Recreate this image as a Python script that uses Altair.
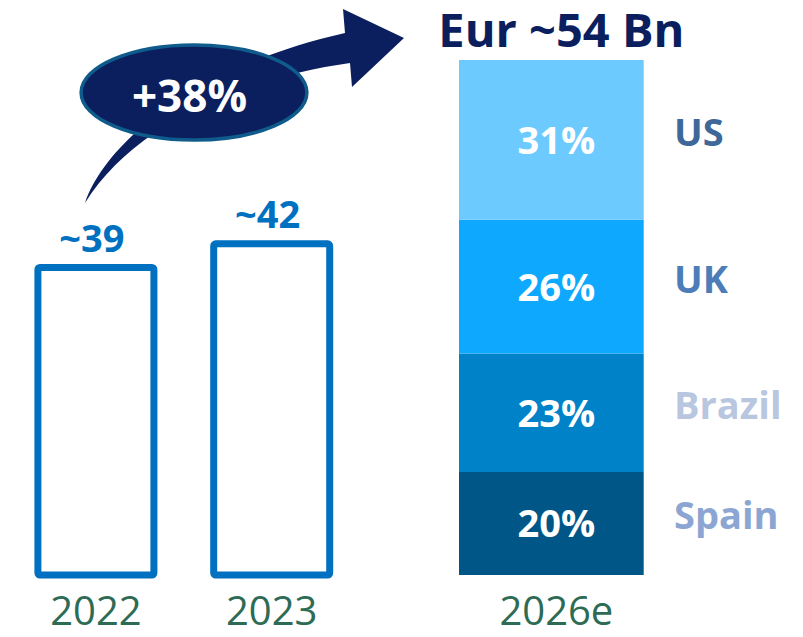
import altair as alt
import pandas as pd

# ---------------- data ----------------
years_hist = ["2022", "2023"]
values_hist = [39, 42]
forecast_year = "2026e"
forecast_total = 54
countries = ["Spain", "Brazil", "UK", "US"]
shares = [20, 23, 26, 31]
growth_label = "+38%"

# ---------------- styles ----------------
seg_colors = ["#005687", "#0082C8", "#0EA9FF", "#6CCAFF"]
country_colors = ["#8BA6D2", "#B8C6E0", "#4D7DB8", "#3D6899"]
NAVY = "#0B1F5E"
BAR_BLUE = "#0070C0"
YEAR_GREEN = "#2E6B55"
FONT = "Open Sans"

# ---------------- tables ----------------
hist_df = pd.DataFrame({"year": years_hist, "value": values_hist})
hist_df["base"] = 0
hist_df["label"] = "~" + hist_df["value"].astype(str)

stack_df = pd.DataFrame({"country": countries, "share": shares})
stack_df["year"] = forecast_year
stack_df["value"] = stack_df["share"] / 100 * forecast_total
stack_df["upper"] = stack_df["value"].cumsum()
stack_df["lower"] = stack_df["upper"] - stack_df["value"]
stack_df["mid"] = (stack_df["upper"] + stack_df["lower"]) / 2
stack_df["pct"] = stack_df["share"].astype(str) + "%"

total_df = pd.DataFrame({"year": [forecast_year], "total": [forecast_total]})
total_df["label"] = "Eur ~" + total_df["total"].astype(str) + " Bn"
yearB_df = pd.DataFrame({"year": [forecast_year], "base": [0]})

anno_df = pd.DataFrame({"year": [years_hist[0]], "value": [values_hist[0]],
                        "label": [growth_label]})

# ---------------- decorative shapes (symbol paths, unit = 100 px) ----------------
def fmt(p):
    return f"{p[0]:.3f},{p[1]:.3f}"

AX, AY = 95.9, 267.5
def u(x, y):
    return ((x - AX) / 100.0, (y - AY) / 100.0)

arrow_path = (
    "M" + fmt(u(85, 203))
    + "C" + fmt(u(105, 145)) + " " + fmt(u(190, 68)) + " " + fmt(u(345, 33))
    + "L" + fmt(u(343, 9))
    + "L" + fmt(u(404, 38))
    + "L" + fmt(u(352, 87))
    + "L" + fmt(u(350, 63))
    + "C" + fmt(u(230, 80)) + " " + fmt(u(130, 130)) + " " + fmt(u(85, 203))
    + "Z"
)

cx, cy = u(194, 92.5)
rx, ry = 1.129, 0.476
k = 0.5523
ellipse_path = (
    f"M{cx-rx:.3f},{cy:.3f}"
    f"C{cx-rx:.3f},{cy-k*ry:.3f} {cx-k*rx:.3f},{cy-ry:.3f} {cx:.3f},{cy-ry:.3f}"
    f"C{cx+k*rx:.3f},{cy-ry:.3f} {cx+rx:.3f},{cy-k*ry:.3f} {cx+rx:.3f},{cy:.3f}"
    f"C{cx+rx:.3f},{cy+k*ry:.3f} {cx+k*rx:.3f},{cy+ry:.3f} {cx:.3f},{cy+ry:.3f}"
    f"C{cx-k*rx:.3f},{cy+ry:.3f} {cx-rx:.3f},{cy+k*ry:.3f} {cx-rx:.3f},{cy:.3f}Z"
)

# ---------------- scales ----------------
WA, WB, H = 430, 357, 629
scaleXA = alt.Scale(domain=years_hist, paddingInner=0, paddingOuter=0.223, align=0)
scaleYA = alt.Scale(domain=[-7.863, 71.913], nice=False, zero=False)
scaleXB = alt.Scale(domain=[forecast_year], paddingInner=0, paddingOuter=0.4664, align=0.1219)
scaleYB = alt.Scale(domain=[-6.501, 59.452], nice=False, zero=False)

xA = alt.X("year:N", scale=scaleXA, axis=None)
xB = alt.X("year:N", scale=scaleXB, axis=None)

# ---------------- panel A: historical outlined bars ----------------
baseA = alt.Chart(hist_df)
barsA = baseA.mark_bar(width=116, fill="white", stroke=BAR_BLUE, strokeWidth=7,
                       cornerRadius=2).encode(
    x=xA,
    y=alt.Y("value:Q", scale=scaleYA, axis=None),
    y2="base:Q",
)
lblA = baseA.mark_text(font=FONT, fontWeight="bold", fontSize=38, color=BAR_BLUE,
                       baseline="alphabetic", dx=-4, dy=-16).encode(
    x=xA, y=alt.Y("value:Q", scale=scaleYA, axis=None), text="label:N"
)
yrA = baseA.mark_text(font=FONT, fontSize=40, color=YEAR_GREEN,
                      baseline="alphabetic", dx=0, dy=50).encode(
    x=xA, y=alt.Y("base:Q", scale=scaleYA, axis=None), text="year:N"
)
arrow = alt.Chart(anno_df).mark_point(shape=arrow_path, size=40000, filled=True,
                                      color=NAVY, opacity=1).encode(
    x=xA, y=alt.Y("value:Q", scale=scaleYA, axis=None)
)
ellipse = alt.Chart(anno_df).mark_point(shape=ellipse_path, size=40000, filled=True,
                                        color=NAVY, stroke="#0F5C8C", strokeWidth=3.5,
                                        opacity=1).encode(
    x=xA, y=alt.Y("value:Q", scale=scaleYA, axis=None)
)
growth = alt.Chart(anno_df).mark_text(font=FONT, fontWeight="bold", fontSize=44,
                                      color="white", baseline="alphabetic",
                                      dx=93.6, dy=-155.5).encode(
    x=xA, y=alt.Y("value:Q", scale=scaleYA, axis=None), text="label:N"
)
panelA = alt.layer(barsA, lblA, yrA, arrow, ellipse, growth).properties(width=WA, height=H)

# ---------------- panel B: 2026e stacked bar ----------------
baseB = alt.Chart(stack_df)
stack = baseB.mark_bar(width=184.7).encode(
    x=xB,
    y=alt.Y("upper:Q", scale=scaleYB, axis=None),
    y2="lower:Q",
    color=alt.Color("country:N", scale=alt.Scale(domain=countries, range=seg_colors),
                    legend=None),
)
pct = baseB.mark_text(font=FONT, fontWeight="bold", fontSize=38, color="white",
                      baseline="middle", dx=5, dy=3).encode(
    x=xB, y=alt.Y("mid:Q", scale=scaleYB, axis=None), text="pct:N"
)
ctry = baseB.mark_text(font=FONT, fontWeight="bold", fontSize=38, align="left",
                       baseline="middle", dx=122.7, dy=-5).encode(
    x=xB, y=alt.Y("mid:Q", scale=scaleYB, axis=None), text="country:N",
    fill=alt.Fill("country:N", scale=alt.Scale(domain=countries, range=country_colors),
                  legend=None),
)
yrB = alt.Chart(yearB_df).mark_text(font=FONT, fontSize=40, color=YEAR_GREEN,
                                    baseline="alphabetic", dx=5, dy=50).encode(
    x=xB, y=alt.Y("base:Q", scale=scaleYB, axis=None), text="year:N"
)
title = alt.Chart(total_df).mark_text(font=FONT, fontWeight="bold", fontSize=47,
                                      color=NAVY, baseline="alphabetic",
                                      dx=10, dy=-13).encode(
    x=xB, y=alt.Y("total:Q", scale=scaleYB, axis=None), text="label:N"
)
panelB = alt.layer(stack, pct, ctry, yrB, title).properties(width=WB, height=H)

chart = (
    alt.hconcat(panelA, panelB, spacing=0, bounds="flush")
    .properties(padding=0)
    .configure_view(stroke=None)
)

chart.save("out.html", embed_options={"renderer": "svg", "actions": False})
